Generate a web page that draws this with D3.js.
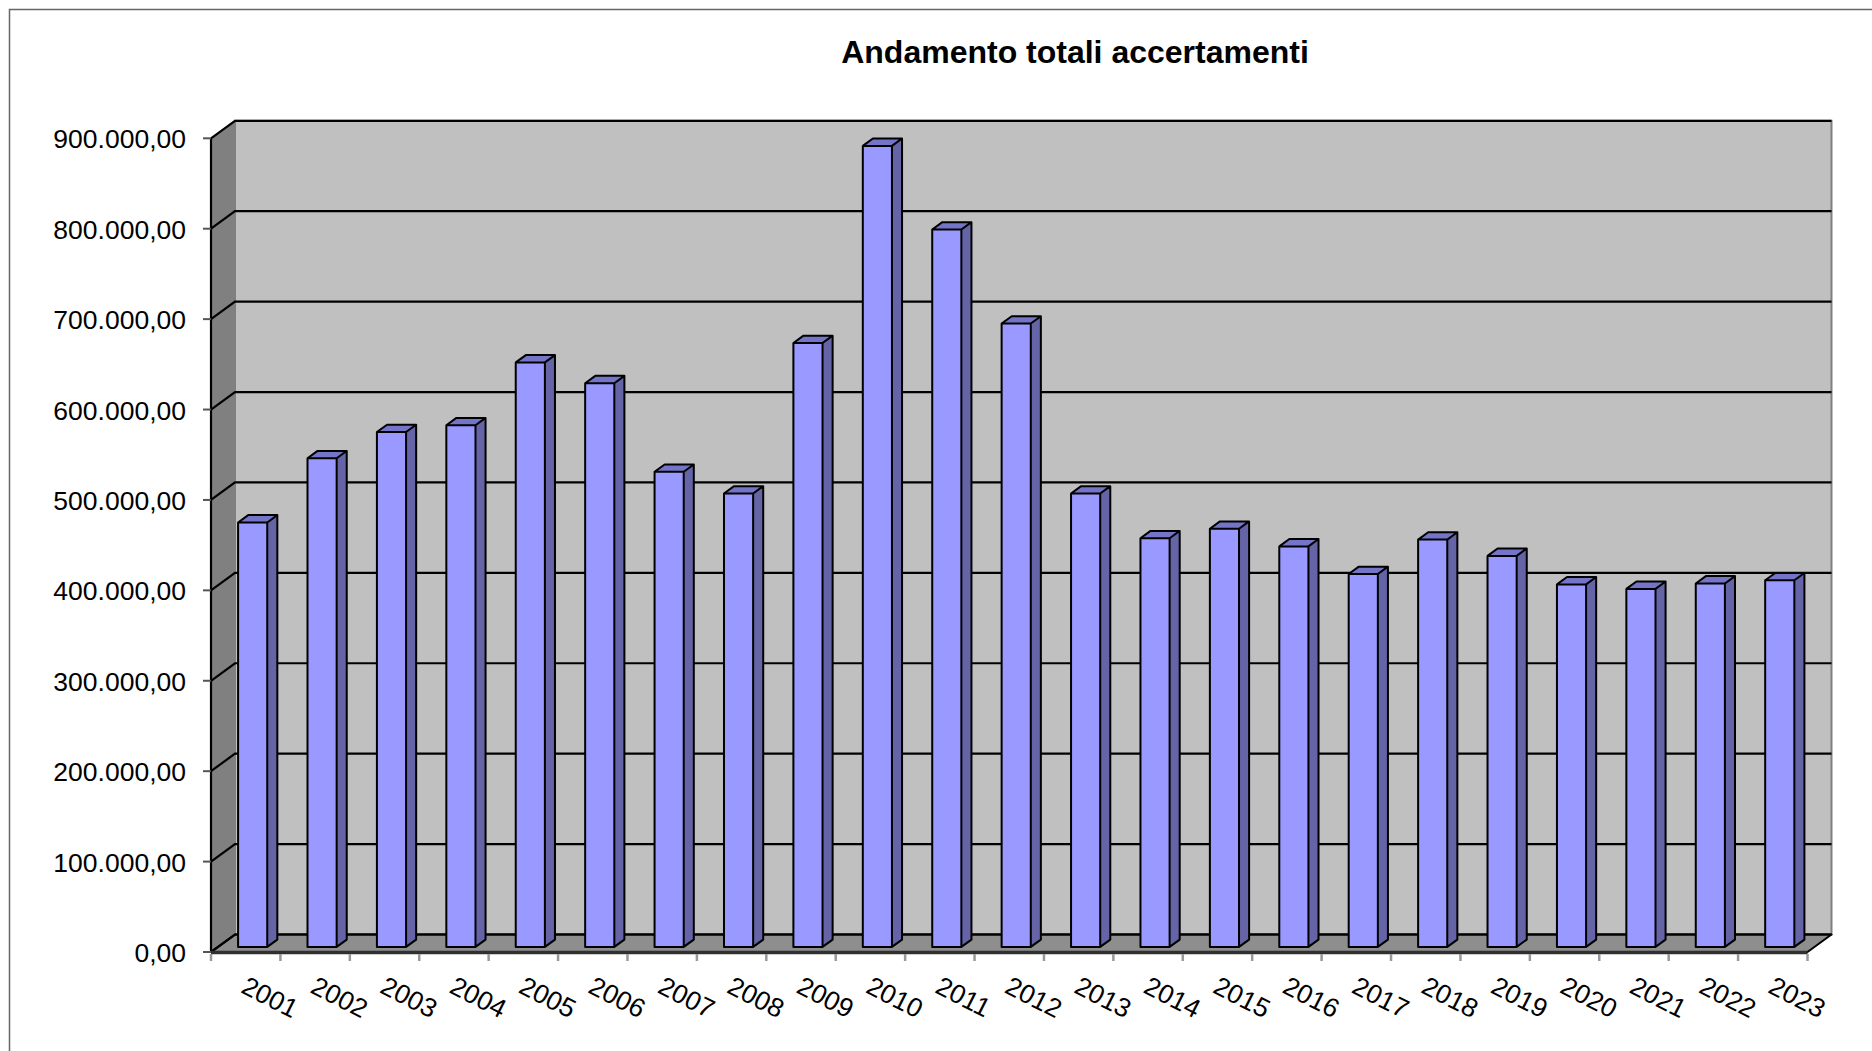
<!DOCTYPE html>
<html>
<head>
<meta charset="utf-8">
<script src="https://cdn.jsdelivr.net/npm/d3@7/dist/d3.min.js"></script>
<style>
  html, body { margin: 0; padding: 0; background: #fff; }
  svg { display: block; font-family: "Liberation Sans", Arial, sans-serif; }
</style>
</head>
<body>
<svg id="chart"></svg>
<script>
var years = ["2001", "2002", "2003", "2004", "2005", "2006", "2007", "2008", "2009", "2010", "2011", "2012",
             "2013", "2014", "2015", "2016", "2017", "2018", "2019", "2020", "2021", "2022", "2023"];
var totals = [469500, 540500, 569500, 577000, 646500, 623500, 525500, 501500, 668000, 886000, 793500, 689500,
              501500, 452000, 462500, 443000, 412500, 450500, 432500, 401000, 396000, 402000, 405500];
var yTicks = [0, 100000, 200000, 300000, 400000, 500000, 600000, 700000, 800000, 900000];
var title = "Andamento totali accertamenti";

(function() {
var width = 1872;
var height = 1051;

// plot geometry (front plane) and 3d depth offset
var plotLeft = 211, plotRight = 1807.5;
var plotBottom = 952, plotTop = 138.3;
var depthX = 24, depthY = 17.5;
var barZ0 = 0.29, barZ1 = 0.71;

var svg = d3.select("#chart")
            .attr("width", width)
            .attr("height", height);

var x = d3.scaleBand().domain(years).range([plotLeft, plotRight]).padding(0);
var y = d3.scaleLinear().domain([0, 900000]).range([plotBottom, plotTop]);

var it = d3.formatLocale({ decimal: ",", thousands: ".", grouping: [3], currency: ["", "€"] });
var fmt = it.format(",.2f");

// project a front-plane point back by depth z (0..1)
var proj = function(px, py, z) {
    return [px + z * depthX, py - z * depthY];
};
var pts = function(list) {
    return list.map(function(p) { return p.join(","); }).join(" ");
};

// outer frame
svg.append("rect")
   .attr("x", 9.5).attr("y", 9.5)
   .attr("width", width).attr("height", height)
   .attr("fill", "none")
   .attr("stroke", "#666")
   .attr("stroke-width", 1.5);

// back wall
var backTop = proj(plotLeft, y(900000), 1), backBottom = proj(plotRight, y(0), 1);
svg.append("rect")
   .attr("x", backTop[0]).attr("y", backTop[1])
   .attr("width", backBottom[0] - backTop[0])
   .attr("height", backBottom[1] - backTop[1])
   .attr("fill", "#c0c0c0")
   .attr("stroke", "#808080")
   .attr("stroke-width", 2);

// side wall
svg.append("polygon")
   .attr("points", pts([[plotLeft, y(0)], proj(plotLeft, y(0), 1), proj(plotLeft, y(900000), 1), [plotLeft, y(900000)]]))
   .attr("fill", "#808080");

// floor
svg.append("polygon")
   .attr("points", pts([[plotLeft, y(0)], [plotRight, y(0)], proj(plotRight, y(0), 1), proj(plotLeft, y(0), 1)]))
   .attr("fill", "#8e8e8e")
   .attr("stroke", "#000")
   .attr("stroke-width", 2)
   .attr("stroke-linejoin", "round");

// gridlines, across side wall and back wall
svg.selectAll("polyline.grid")
   .data(yTicks)
   .enter()
   .append("polyline")
   .attr("class", "grid")
   .attr("points", function(d) {
       return pts([[plotLeft, y(d)], proj(plotLeft, y(d), 1), proj(plotRight, y(d), 1)]);
   })
   .attr("fill", "none")
   .attr("stroke", "#000")
   .attr("stroke-width", 2.2);

// front value axis
svg.append("line")
   .attr("x1", plotLeft).attr("x2", plotLeft)
   .attr("y1", y(900000)).attr("y2", y(0))
   .attr("stroke", "#000")
   .attr("stroke-width", 2.2);

// front floor edge
svg.append("line")
   .attr("x1", plotLeft).attr("x2", plotRight)
   .attr("y1", y(0) + 0.5).attr("y2", y(0) + 0.5)
   .attr("stroke", "#303030")
   .attr("stroke-width", 3.5);

// value ticks and labels
svg.selectAll("line.ytick")
   .data(yTicks)
   .enter()
   .append("line")
   .attr("class", "ytick")
   .attr("x1", plotLeft - 8).attr("x2", plotLeft)
   .attr("y1", function(d) { return y(d); })
   .attr("y2", function(d) { return y(d); })
   .attr("stroke", "#555")
   .attr("stroke-width", 2);

svg.selectAll("text.ylabel")
   .data(yTicks)
   .enter()
   .append("text")
   .attr("class", "ylabel")
   .attr("x", 186)
   .attr("y", function(d) { return y(d) + 10; })
   .attr("text-anchor", "end")
   .attr("font-size", 26.5)
   .attr("fill", "#000")
   .text(fmt);

// category ticks on band edges
var edges = years.map(function(d) { return x(d); }).concat([plotRight]);
svg.selectAll("line.xtick")
   .data(edges)
   .enter()
   .append("line")
   .attr("class", "xtick")
   .attr("x1", function(d) { return d; })
   .attr("x2", function(d) { return d; })
   .attr("y1", y(0) + 2).attr("y2", y(0) + 9)
   .attr("stroke", "#999")
   .attr("stroke-width", 2.5);

// bars
var barW = x.bandwidth() * 0.42;
var bars = svg.selectAll("g.bar")
              .data(years.map(function(d, i) { return { year: d, value: totals[i] }; }))
              .enter()
              .append("g")
              .attr("class", "bar");

var barBox = function(d) {
    var x0 = x(d.year) + (x.bandwidth() - barW) / 2;
    return { x0: x0, x1: x0 + barW, yt: y(d.value), yb: y(0) };
};

bars.append("polygon")
    .attr("points", function(d) {
        var b = barBox(d);
        return pts([proj(b.x1, b.yb, barZ0), proj(b.x1, b.yb, barZ1), proj(b.x1, b.yt, barZ1), proj(b.x1, b.yt, barZ0)]);
    })
    .attr("fill", "#6464a6");

bars.append("polygon")
    .attr("points", function(d) {
        var b = barBox(d);
        return pts([proj(b.x0, b.yt, barZ0), proj(b.x1, b.yt, barZ0), proj(b.x1, b.yt, barZ1), proj(b.x0, b.yt, barZ1)]);
    })
    .attr("fill", "#7474c8");

bars.append("polygon")
    .attr("points", function(d) {
        var b = barBox(d);
        return pts([proj(b.x0, b.yb, barZ0), proj(b.x1, b.yb, barZ0), proj(b.x1, b.yt, barZ0), proj(b.x0, b.yt, barZ0)]);
    })
    .attr("fill", "#9999ff");

// outline of the whole column
bars.append("path")
    .attr("d", function(d) {
        var b = barBox(d);
        var a = proj(b.x0, b.yb, barZ0), c = proj(b.x1, b.yb, barZ0), e = proj(b.x1, b.yt, barZ0), f = proj(b.x0, b.yt, barZ0);
        var g = proj(b.x1, b.yb, barZ1), h = proj(b.x1, b.yt, barZ1), k = proj(b.x0, b.yt, barZ1);
        return "M" + a + "L" + c + "L" + e + "L" + f + "Z" +
               "M" + c + "L" + g + "L" + h + "L" + k + "L" + f +
               "M" + e + "L" + h;
    })
    .attr("fill", "none")
    .attr("stroke", "#000")
    .attr("stroke-width", 2)
    .attr("stroke-linejoin", "round");

// category labels
svg.selectAll("text.xlabel")
   .data(years)
   .enter()
   .append("text")
   .attr("class", "xlabel")
   .attr("font-size", 26.5)
   .attr("fill", "#000")
   .attr("transform", function(d) {
       return "translate(" + (x(d) + x.bandwidth() / 2 - 6) + "," + 992 + ") rotate(27)";
   })
   .text(String);

// title
svg.append("text")
   .attr("x", 1075)
   .attr("y", 63)
   .attr("text-anchor", "middle")
   .attr("font-size", 32)
   .attr("font-weight", "bold")
   .attr("fill", "#000")
   .text(title);
})();
</script>
</body>
</html>
